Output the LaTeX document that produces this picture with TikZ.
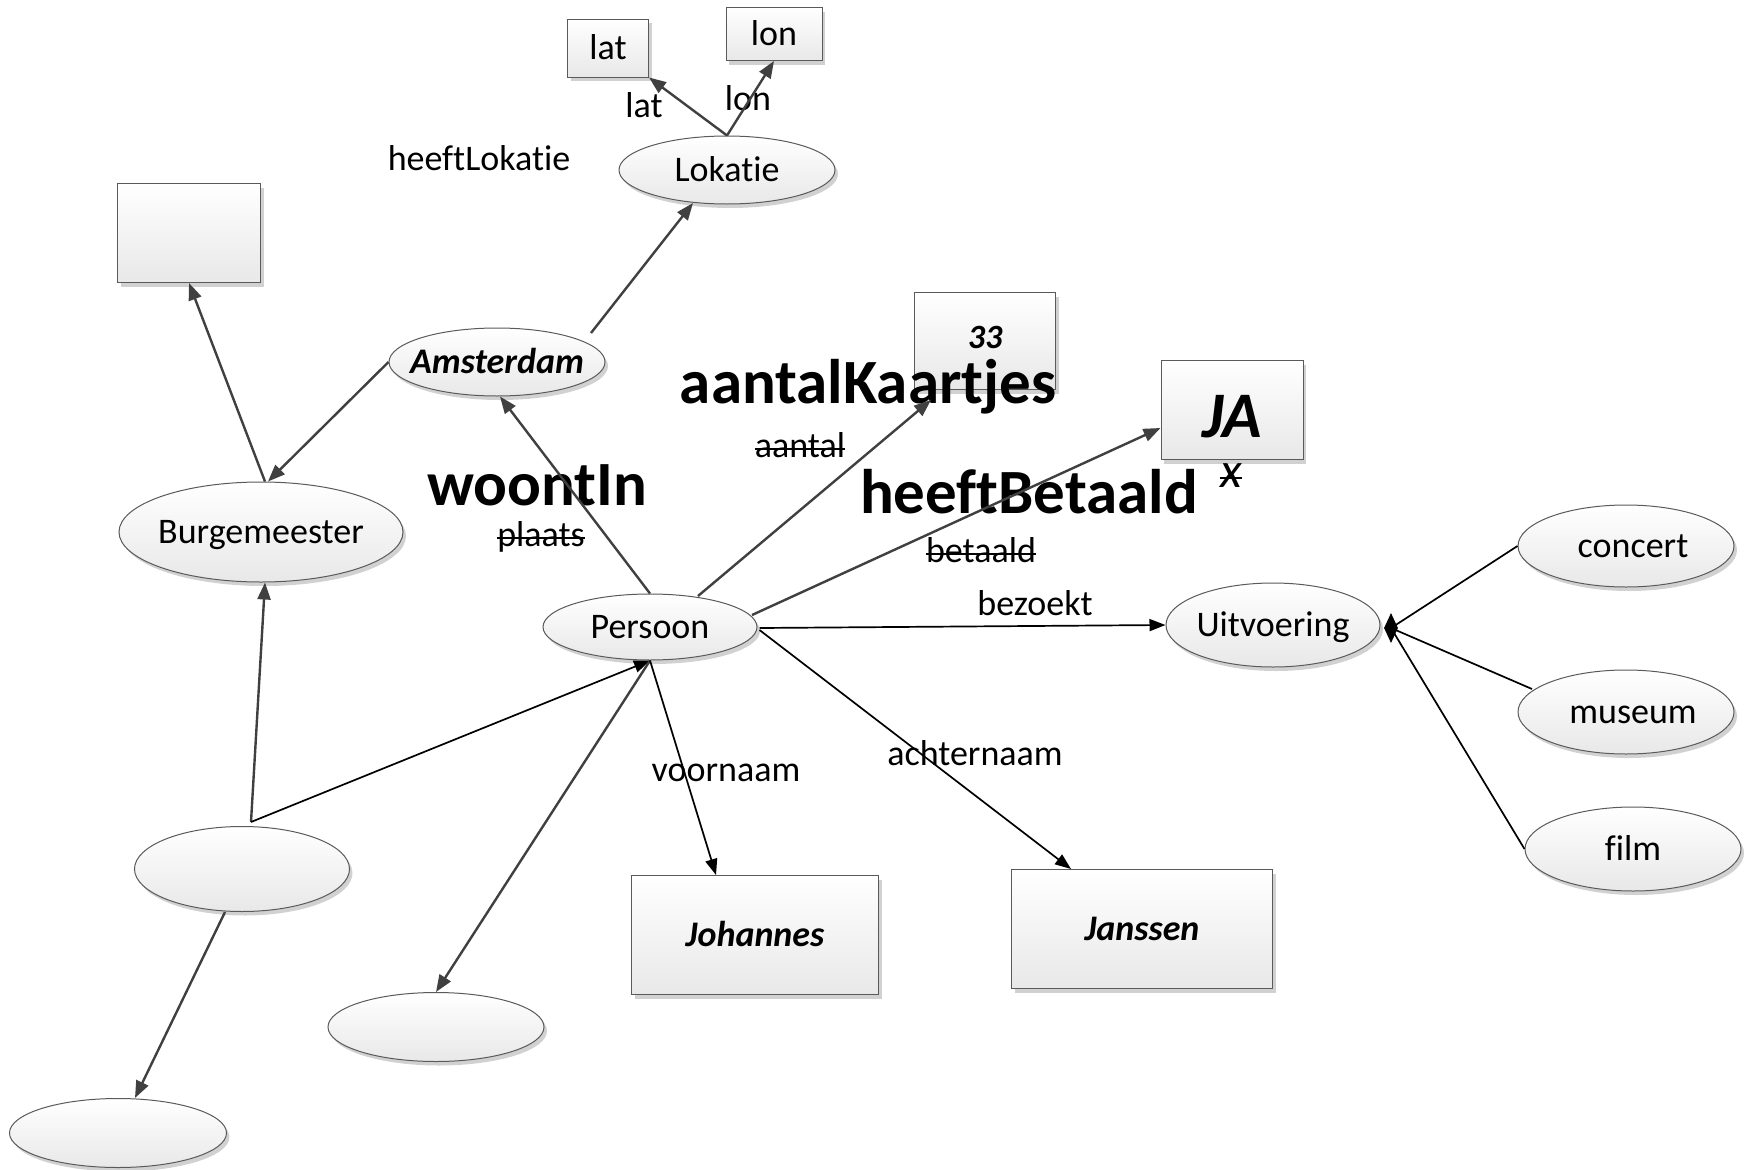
\documentclass[tikz,border=0pt]{standalone}
\usepackage{fontspec}
\setmainfont{Carlito}[Ligatures=NoCommon]
\usetikzlibrary{arrows.meta,shapes.geometric,shadows}
\definecolor{edgegray}{HTML}{404040}
\definecolor{bordergray}{HTML}{5A5A5A}
\definecolor{fillbottom}{HTML}{E8E8E8}
\newcommand{\ctrtext}[1]{\makebox[0pt][c]{#1}}
\begin{document}
\begin{tikzpicture}[x=1pt,y=-1pt,
  every node/.style={font=\fontsize{36}{40}\selectfont},
  ent/.style={ellipse, draw=bordergray, line width=1pt, top color=white, bottom color=fillbottom,
    inner sep=0pt, text height=23pt, text depth=0pt,
    drop shadow={shadow xshift=3pt,shadow yshift=-4pt,opacity=0.18,fill=black}},
  val/.style={rectangle, draw=bordergray, line width=1pt, top color=white, bottom color=fillbottom,
    inner sep=0pt, text height=23pt, text depth=0pt,
    drop shadow={shadow xshift=3pt,shadow yshift=-4pt,opacity=0.18,fill=black}},
  bi/.style={font=\fontsize{36}{40}\selectfont\bfseries\itshape},
  lbl/.style={anchor=base, inner sep=0pt},
  big/.style={lbl, font=\fontsize{63}{70}\selectfont\bfseries},
  strike/.style={draw=black, line width=2pt},
  darr/.style={draw=edgegray, line width=2.4pt, -{Triangle[length=17pt,width=13pt]}},
  barr/.style={draw=black, line width=1.7pt, -{Triangle[length=16pt,width=12pt]}},
  bline/.style={draw=black, line width=1.7pt},
]
\fill[white] (0,0) rectangle (1754,1170);
\useasboundingbox (0,0) rectangle (1754,1170);

% value boxes
\node[val, minimum width=143, minimum height=99] (blank) at (189,233) {};
\node[val, minimum width=81, minimum height=58] (latbox) at (608,48) {lat};
\node[val, minimum width=96, minimum height=53] (lonbox) at (774,34) {lon};
\node[val, font=\fontsize{34}{40}\selectfont\bfseries\itshape, text depth=8pt, minimum width=141, minimum height=97] (n33) at (985,341) {33};
\node[val, font=\fontsize{65}{70}\selectfont\bfseries\itshape, text height=54pt, minimum width=142, minimum height=99] (ja) at (1232,410) {JA};
\node[val, bi, minimum width=247, minimum height=119] (johannes) at (755,935) {Johannes};
\node[val, bi, minimum width=261, minimum height=119] (janssen) at (1142,929) {Janssen};

% entities
\node[ent, minimum width=216, minimum height=68] (lokatie) at (727,170) {\ctrtext{Lokatie}};
\node[ent, bi, minimum width=216, minimum height=68] (amsterdam) at (497,362) {\ctrtext{Amsterdam}};
\node[ent, minimum width=284, minimum height=100] (burg) at (261,532) {\ctrtext{Burgemeester}};
\node[ent, minimum width=214, minimum height=66] (persoon) at (650,627) {\ctrtext{Persoon}};
\node[ent, minimum width=214, minimum height=84] (uitv) at (1273,625) {\ctrtext{Uitvoering}};
\node[ent, minimum width=216, minimum height=82] (concert) at (1626,546) {\ctrtext{\hspace*{14pt}concert}};
\node[ent, minimum width=216, minimum height=84] (museum) at (1626,712) {\ctrtext{\hspace*{14pt}museum}};
\node[ent, minimum width=216, minimum height=84] (film) at (1633,849) {\ctrtext{film}};
\node[ent, minimum width=215, minimum height=85] (e1) at (242,869) {};
\node[ent, minimum width=216, minimum height=69] (e2) at (436,1027) {};
\node[ent, minimum width=217, minimum height=69] (e3) at (118,1133) {};

% labels
\node[lbl] (lHeeftLok) at (479,170) {heeftLokatie};
\node[lbl] (lLat) at (644,117) {lat};
\node[lbl] (lLon) at (748,110) {lon};
\node[big] (lWoont) at (537,505) {woontIn};
\node[lbl] (lPlaats) at (541,546) {plaats};
\node[big] (lAantalK) at (868,403) {aantalKaartjes};
\node[lbl] (lAantal) at (800,457) {aantal};
\node[big] (lHeeftB) at (1029,513) {heeftBetaald};
\node[lbl] (lBetaald) at (981,562) {betaald};
\node[lbl, font=\fontsize{50}{56}\selectfont\itshape] (lX) at (1231,487) {x};
\node[lbl] (lBezoekt) at (1035,615) {bezoekt};
\node[lbl] (lVoornaam) at (726,781) {voornaam};
\node[lbl] (lAchter) at (975,765) {achternaam};

% strike-through of the old labels
\draw[strike] ([shift={(0,-8)}]lPlaats.base west) -- ([shift={(0,-8)}]lPlaats.base east);
\draw[strike] ([shift={(0,-8)}]lAantal.base west) -- ([shift={(0,-8)}]lAantal.base east);
\draw[strike] ([shift={(0,-8)}]lBetaald.base west) -- ([shift={(0,-8)}]lBetaald.base east);
\draw[strike] ([shift={(0,-9)}]lX.base west) -- ([shift={(0,-9)}]lX.base east);

% connectors
\draw[darr] (lokatie.north) -- (latbox.south east);
\draw[darr] (lokatie.north) -- (lonbox.south);
\draw[darr] ([shift={(94,-29)}]amsterdam.center) -- ([shift={(-34,33)}]lokatie.center);
\draw[darr] (amsterdam.west) -- ([shift={(7,0)}]burg.north);
\draw[darr] ([shift={(4,0)}]burg.north) -- (blank.south);
\coordinate (J) at (251,822);
\draw[darr] (J) -- ([shift={(4,0)}]burg.south);
\draw[barr] (J) -- (persoon.south);
\draw[darr] ([shift={(-17,0)}]e1.south) -- ([shift={(17,0)}]e3.north);
\draw[darr] (persoon.south) -- (e2.north);
\draw[barr] (persoon.south) -- ([shift={(-39,0)}]johannes.north);
\draw[barr] ([shift={(2,3)}]persoon.east) -- ([shift={(-71,0)}]janssen.north);
\draw[barr] ([shift={(2,1)}]persoon.east) -- (uitv.west);
\draw[darr] ([shift={(102,-12)}]persoon.center) -- ([shift={(0,18)}]ja.west);
\draw[darr] ([shift={(48,-31)}]persoon.center) -- ([shift={(-54,59)}]n33.center);
\draw[darr] (persoon.north) -- ([shift={(3,0)}]amsterdam.south);

\coordinate (dc) at (1391,628);
\draw[bline] (concert.west) -- (dc);
\draw[bline] ([shift={(-94,-23)}]museum.center) -- (dc);
\draw[bline] (film.west) -- (dc);
\node[diamond, shape aspect=0.5, fill=black, minimum width=14, minimum height=30, inner sep=0pt] (dia) at (dc) {};
\end{tikzpicture}
\end{document}
